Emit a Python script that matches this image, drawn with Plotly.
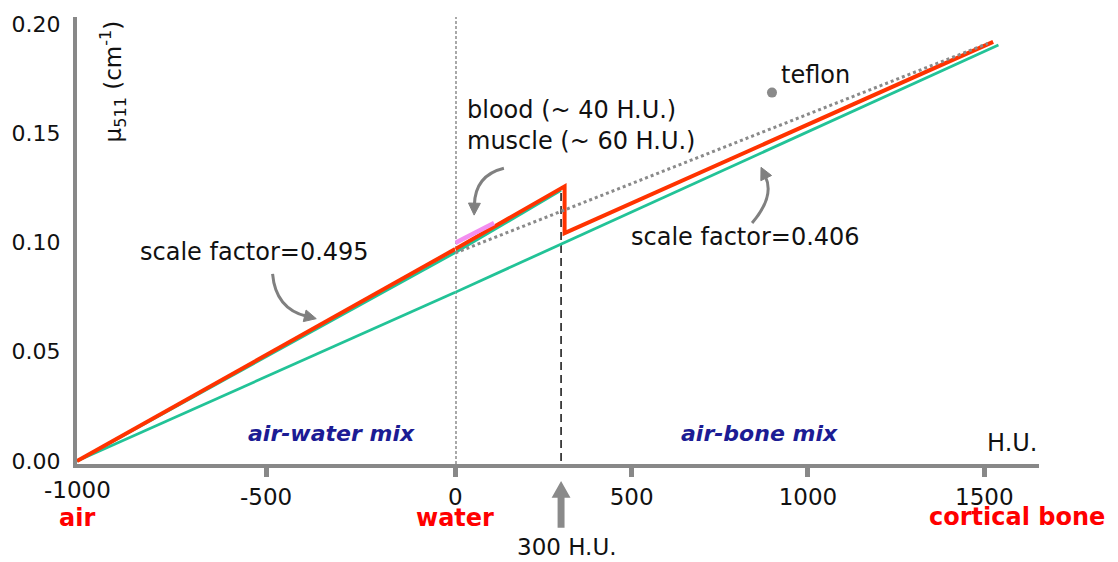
import math
import plotly.graph_objects as go

# ---------------- data ----------------
# Hounsfield units (H.U.) vs linear attenuation coefficient at 511 keV (cm^-1)
red_x = [-1000, 0, 310, 310, 1525]            # bilinear scaling (red)
red_y = [0.0, 0.097, 0.1257, 0.1043, 0.1918]
green_a_x = [-1000, 0, 300]                    # air-water mixing line
green_a_y = [0.0, 0.0954, 0.1239]
green_b_x = [-1000, 0, 1540]                   # air-bone mixing line
green_b_y = [0.0, 0.0772, 0.1904]
dotted_x = [0, 1510]                           # water-bone line (dotted)
dotted_y = [0.0952, 0.1911]
pink_x = [0, 110]                              # blood / muscle range
pink_y = [0.0998, 0.1089]
teflon_x = [898]
teflon_y = [0.1686]
jump_hu = 300

x_left_ticks = [-500]
x_left_labels = ["-500"]
x_right_ticks = [0, 500, 1000, 1500]
x_right_labels = ["0", "500", "1000", "1500"]
y_ticks = [0.0, 0.05, 0.10, 0.15, 0.20]
y_labels = ["0.00", "0.05", "0.10", "0.15", "0.20"]

# ---------------- layout geometry ----------------
W, H = 1118, 562
ML, MR, MT, MB = 70, 79, 15, 98
PW = W - ML - MR
PH = H - MT - MB
SPLIT = 381 / PW
X2_MAX = 1655
Y_RANGE = [-0.00137, 0.2032]

FONT = "DejaVu Sans"
RED = "#ff3300"
GREEN = "#22c397"
GRAY = "#888888"
TXT = "#111111"


def pxx(xp):
    return (xp - ML) / PW


def pxy(yp):
    return (MT + PH - yp) / PH


def split(xs, ys):
    lx, ly, rx, ry = [], [], [], []
    for x, y in zip(xs, ys):
        if x <= 0:
            lx.append(x); ly.append(y)
        if x >= 0:
            rx.append(x); ry.append(y)
    return (lx, ly), (rx, ry)


fig = go.Figure()


def add_line(xs, ys, color, width, dash=None):
    (lx, ly), (rx, ry) = split(xs, ys)
    line = dict(color=color, width=width)
    if dash:
        line["dash"] = dash
    if len(lx) > 1:
        fig.add_trace(go.Scatter(x=lx, y=ly, xaxis="x", yaxis="y", mode="lines",
                                 line=line, showlegend=False, hoverinfo="skip"))
    if len(rx) > 1:
        fig.add_trace(go.Scatter(x=rx, y=ry, xaxis="x2", yaxis="y", mode="lines",
                                 line=line, showlegend=False, hoverinfo="skip"))


add_line(green_b_x, green_b_y, GREEN, 2.8)
add_line(green_a_x, green_a_y, GREEN, 2.8)
add_line(red_x, red_y, RED, 4)
add_line(dotted_x, dotted_y, "#8a8a8a", 3, "3px,3px")
add_line(pink_x, pink_y, "#f38ff0", 4.5)
fig.add_trace(go.Scatter(x=teflon_x, y=teflon_y, xaxis="x2", yaxis="y", mode="markers",
                         marker=dict(color="#8a8a8a", size=10), showlegend=False,
                         hoverinfo="skip"))

shapes = []
# water vertical dotted line
shapes.append(dict(type="line", xref="x2", yref="paper", x0=0, x1=0, y0=0, y1=1,
                   line=dict(color="#8c8c8c", width=3, dash="3px,2px"), layer="below"))
# 300 H.U. dashed line
shapes.append(dict(type="line", xref="x2", yref="y", x0=jump_hu, x1=jump_hu, y0=0,
                   y1=green_a_y[-1], line=dict(color="#111111", width=1.5, dash="8px,5px"),
                   layer="below"))


def curved_arrow(p0, c, p1, head_len=12, head_w=6):
    dx, dy = p1[0] - c[0], p1[1] - c[1]
    L = math.hypot(dx, dy)
    ux, uy = dx / L, dy / L
    bx, by = p1[0] - ux * head_len, p1[1] - uy * head_len
    nx, ny = -uy, ux
    lft = (bx + nx * head_w, by + ny * head_w)
    rgt = (bx - nx * head_w, by - ny * head_w)
    curve = (f"M {pxx(p0[0])},{pxy(p0[1])} Q {pxx(c[0])},{pxy(c[1])} "
             f"{pxx(bx + ux * 2)},{pxy(by + uy * 2)}")
    head = (f"M {pxx(p1[0])},{pxy(p1[1])} L {pxx(lft[0])},{pxy(lft[1])} "
            f"L {pxx(rgt[0])},{pxy(rgt[1])} Z")
    shapes.append(dict(type="path", xref="paper", yref="paper", path=curve,
                       line=dict(color="#808080", width=3)))
    shapes.append(dict(type="path", xref="paper", yref="paper", path=head,
                       fillcolor="#808080", line=dict(color="#808080", width=1)))


curved_arrow((267, 273), (270, 308), (311, 318))
curved_arrow((500, 167), (471, 174), (470, 214))
curved_arrow((750, 222), (773, 195), (759, 166))

# thick upward arrow under the 300 H.U. line (x in H.U. units of xaxis2)
k = X2_MAX / (PW * (1 - SPLIT))  # H.U. per pixel on xaxis2
xc = jump_hu
sw, hw = 3.5 * k, 9.5 * k
arrow_path = (f"M {xc - sw},{pxy(528)} L {xc - sw},{pxy(498)} L {xc - hw},{pxy(498)} "
              f"L {xc},{pxy(481)} L {xc + hw},{pxy(498)} L {xc + sw},{pxy(498)} "
              f"L {xc + sw},{pxy(528)} Z")
shapes.append(dict(type="path", xref="x2", yref="paper", path=arrow_path,
                   fillcolor="#8a8a8a", line=dict(width=0)))

annotations = []


def txt(xp, yp, s, size=24, color=TXT, xanchor="left", angle=0, xref="paper", xval=None,
        xshift=0):
    annotations.append(dict(
        x=pxx(xp) if xval is None else xval, y=pxy(yp), xref=xref, yref="paper",
        text=s, showarrow=False, xanchor=xanchor, yanchor="middle", textangle=angle,
        xshift=xshift, font=dict(family=FONT, size=size, color=color)))


txt(106, 80, "μ<sub>511</sub> (cm<sup>-1</sup>)", size=23, xanchor="center", angle=-90)
txt(461, 108, "blood (~ 40 H.U.)")
txt(461, 140, "muscle (~ 60 H.U.)")
txt(777, 73, "teflon")
txt(131, 251, "scale factor=0.495")
txt(861, 236, "scale factor=0.406", xanchor="right")
txt(326, 433, "<b><i>air-water mix</i></b>", size=22, color="#1c1c94", xanchor="center")
txt(757, 433, "<b><i>air-bone mix</i></b>", size=22, color="#1c1c94", xanchor="center")
txt(985, 443, "H.U.", size=24)
txt(70, 518, "<b>air</b>", size=24, color="#ff0000", xanchor="center")
txt(0, 518, "<b>water</b>", size=24, color="#ff0000", xanchor="center", xref="x2", xval=0)
txt(1017, 517, "<b>cortical bone</b>", size=24, color="#ff0000", xanchor="center")
txt(0, 547, "300 H.U.", size=23, xanchor="center", xref="x2", xval=jump_hu, xshift=6)
txt(0, 490, "-1000", size=23, xanchor="center", xref="x", xval=-1000)

axis_common = dict(showline=True, linecolor=GRAY, linewidth=4, ticks="outside", ticklen=9,
                   tickwidth=5, tickcolor=GRAY, showgrid=False, zeroline=False,
                   tickfont=dict(family=FONT, size=23, color=TXT), ticklabelstandoff=0,
                   fixedrange=True)

fig.update_layout(
    width=W, height=H, autosize=False,
    margin=dict(l=ML, r=MR, t=MT, b=MB, pad=0),
    paper_bgcolor="white", plot_bgcolor="white",
    xaxis=dict(domain=[0, SPLIT], range=[-1000, 0], anchor="y", tickmode="array",
               tickvals=x_left_ticks, ticktext=x_left_labels, **axis_common),
    xaxis2=dict(domain=[SPLIT, 1], range=[0, X2_MAX], anchor="y", tickmode="array",
                tickvals=x_right_ticks, ticktext=x_right_labels, **axis_common),
    yaxis=dict(range=Y_RANGE, anchor="x", showline=True, linecolor=GRAY, linewidth=4,
               ticks="", showgrid=False, zeroline=False, tickmode="array",
               tickvals=y_ticks, ticktext=y_labels, ticklabelstandoff=8,
               tickfont=dict(family=FONT, size=22, color=TXT), fixedrange=True),
    shapes=shapes, annotations=annotations,
)

fig.write_html("out.html", config={"displayModeBar": False})
